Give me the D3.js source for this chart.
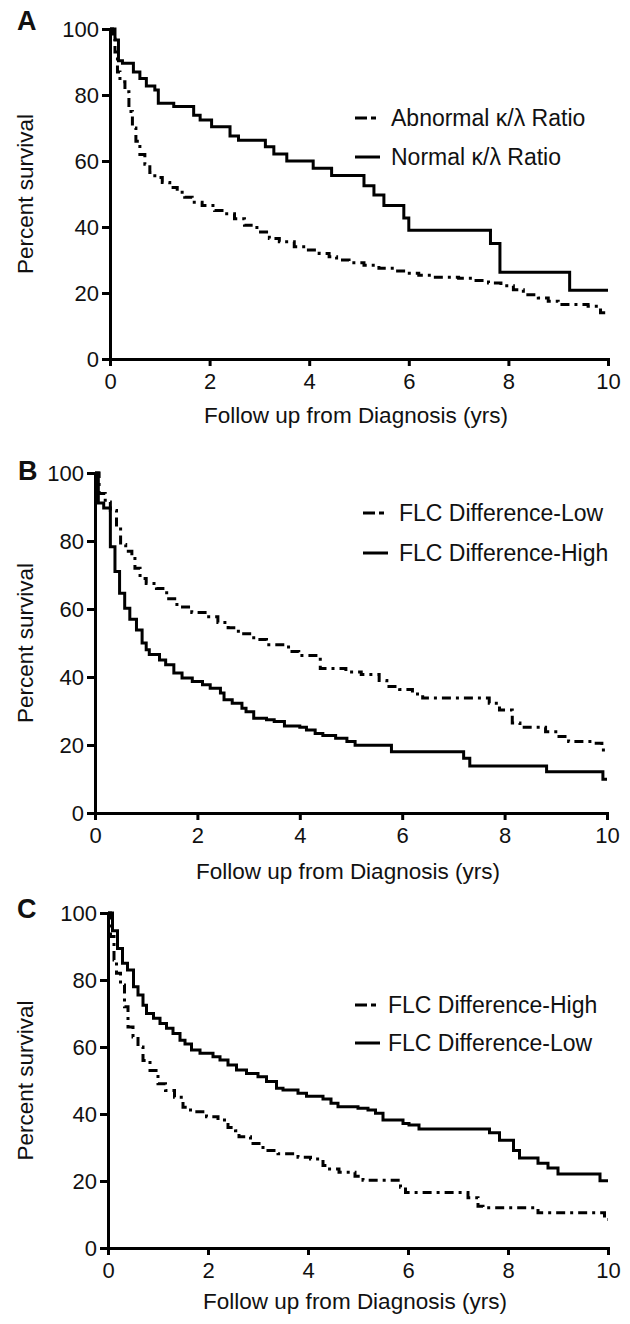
<!DOCTYPE html>
<html>
<head>
<meta charset="utf-8">
<script src="https://cdn.jsdelivr.net/npm/d3@7"></script>
<style>
  body { margin: 0; background: #fff; }
  svg { display: block; }
  text { font-family: "Liberation Sans", Arial, Helvetica, sans-serif; fill: #111; }
  .axis path, .axis line { stroke: #000; stroke-width: 3; }
  .axis text { font-size: 22px; }
</style>
</head>
<body>
<div id="chart"></div>
<script>
// Kaplan-Meier curves, values as [years, percent survival]
var xTicks = [0, 2, 4, 6, 8, 10];
var yTicks = [0, 20, 40, 60, 80, 100];

// panel A
var aAbnormal = [[0,100],[0.05,97],[0.1,93],[0.15,87],[0.2,84],[0.3,81],[0.38,75],[0.45,70],[0.52,66],[0.6,62],
  [0.7,59],[0.8,56.5],[0.9,55],[1.05,53.5],[1.2,52],[1.35,50.5],[1.5,49],[1.65,47.5],[1.85,46.5],[2.1,45],
  [2.3,44],[2.5,42.5],[2.7,40.5],[2.95,38.5],[3.2,36.5],[3.4,35.5],[3.7,34],[3.95,33],[4.2,32],[4.4,31],
  [4.55,30],[4.8,29.2],[5.1,28.4],[5.4,27.5],[5.7,26.7],[5.95,26],[6.2,25.4],[6.5,24.8],[7.0,24.5],[7.3,23.8],
  [7.6,23],[7.85,22.2],[8.1,21],[8.3,19.5],[8.6,18.5],[8.8,17.5],[9.0,16.5],[9.6,16],[9.85,14],[10,14]];
var aNormal = [[0,100],[0.1,96.7],[0.17,90.4],[0.25,89.6],[0.47,87],[0.6,85],[0.73,82.7],[0.9,81.5],[0.97,77.5],
  [1.28,76.5],[1.68,73.9],[1.81,72.4],[2.04,70.4],[2.41,67.6],[2.58,66.3],[3.12,64.3],[3.29,62.1],[3.55,60],
  [4.08,57.8],[4.45,55.6],[5.1,52.5],[5.3,49.7],[5.5,46.5],[5.9,42.7],[6.0,39],[7.64,35],[7.83,26.3],
  [9.23,20.8],[10,20.8]];

// panel B
var bLow = [[0,100],[0.08,94],[0.2,91.5],[0.3,89],[0.42,84],[0.5,79],[0.6,77],[0.72,75.5],[0.78,72],[0.88,69],
  [1.0,67.5],[1.2,66],[1.4,63],[1.6,60.6],[1.89,59],[2.15,57.7],[2.4,56],[2.6,54.5],[2.8,52.7],[3.1,51],
  [3.35,49.5],[3.78,47.5],[3.98,46.3],[4.4,42.5],[4.9,41.5],[5.2,40.7],[5.55,39],[5.7,37.2],[5.95,36.3],
  [6.2,35],[6.4,33.8],[7.7,32.3],[7.9,30.3],[8.15,26.5],[8.3,25.2],[8.8,23.9],[9.0,22.5],[9.25,21],
  [9.7,20.5],[9.9,18.5],[10,18.5]];
var bHigh = [[0,100],[0.065,91.2],[0.17,89.7],[0.3,78.3],[0.39,71],[0.48,64.6],[0.58,60.2],[0.68,57],[0.81,53.8],
  [0.92,50],[1.0,48],[1.06,46.6],[1.26,45],[1.38,43.6],[1.54,41.2],[1.7,39.7],[1.9,38.7],[2.1,37.7],[2.25,36.7],
  [2.45,35.3],[2.52,33.3],[2.68,32.3],[2.87,30.8],[2.95,29.8],[3.1,27.9],[3.35,27.4],[3.5,26.9],[3.7,25.6],
  [4.0,25.2],[4.13,24.4],[4.3,23.4],[4.45,22.8],[4.7,22],[4.92,21],[5.08,19.9],[5.79,18],[7.2,16.1],
  [7.32,13.8],[8.82,12.1],[9.92,9.9],[10,9.9]];

// panel C
var cHigh = [[0,100],[0.05,93],[0.12,86],[0.17,82],[0.25,78.5],[0.33,72],[0.4,66],[0.5,63],[0.6,60],[0.7,56],
  [0.84,53],[1.0,49],[1.15,47],[1.33,45],[1.5,42],[1.65,40.7],[1.97,39.2],[2.2,38.2],[2.4,36],[2.55,35],
  [2.62,33.2],[2.85,31.2],[3.1,29.1],[3.4,28.1],[3.8,27.1],[4.05,26.6],[4.3,24.6],[4.4,23.6],[4.62,22.6],
  [4.94,21.4],[5.1,20.2],[5.85,18.1],[5.95,16.6],[7.2,15],[7.4,12.5],[7.5,12],[8.6,10.5],[9.93,8.5],[10,8.5]];
var cLow = [[0,100],[0.09,94.7],[0.19,89.4],[0.29,85],[0.39,83],[0.51,78],[0.6,75.5],[0.7,72.5],[0.77,70],
  [0.91,68.6],[1.04,67],[1.17,65.6],[1.3,64],[1.44,62],[1.54,60.9],[1.67,59.1],[1.84,58.1],[2.1,57.1],
  [2.24,56.1],[2.4,54.6],[2.57,53.1],[2.77,52.1],[3.0,51.1],[3.17,49.7],[3.37,47.7],[3.5,47.2],[3.8,46.2],
  [3.97,45.3],[4.3,44.5],[4.46,43.2],[4.6,42.2],[5.0,41.7],[5.2,41.2],[5.35,40.2],[5.5,38.2],[5.9,37.2],
  [6.02,36.7],[6.22,35.5],[7.63,34.4],[7.83,32.2],[8.11,29.1],[8.23,26.9],[8.6,25.3],[8.8,23.9],[9.0,22.1],
  [9.84,20.1],[10,20.1]];

var xTitle = "Follow up from Diagnosis (yrs)";
var yTitle = "Percent survival";

var dashPattern = "9,5,3,5";

var svg = d3.select("#chart").append("svg")
  .attr("width", 630)
  .attr("height", 1324);

// layout of each panel (pixels)
var panels = [
  { letter: "A", left: 110, right: 608, top: 29, bottom: 359, lx: 17, ly: 30, titleY: 423,
    legX: 355, legTextX: 391, legY: [118, 157],
    series: [{ data: aAbnormal, name: "Abnormal \u03ba/\u03bb Ratio", dashed: true },
             { data: aNormal, name: "Normal \u03ba/\u03bb Ratio", dashed: false }] },
  { letter: "B", left: 95, right: 607, top: 473, bottom: 813, lx: 18, ly: 480, titleY: 879,
    legX: 363, legTextX: 399, legY: [513, 553],
    series: [{ data: bLow, name: "FLC Difference-Low", dashed: true },
             { data: bHigh, name: "FLC Difference-High", dashed: false }] },
  { letter: "C", left: 108, right: 608, top: 913, bottom: 1248, lx: 17, ly: 918, titleY: 1309,
    legX: 355, legTextX: 388, legY: [1005, 1043],
    series: [{ data: cHigh, name: "FLC Difference-High", dashed: true },
             { data: cLow, name: "FLC Difference-Low", dashed: false }] }
];

panels.forEach(function(p) {
  var x = d3.scaleLinear().domain([0, 10]).range([p.left, p.right]);
  var y = d3.scaleLinear().domain([0, 100]).range([p.bottom, p.top]);

  var line = d3.line()
    .x(d => x(d[0]))
    .y(d => y(d[1]))
    .curve(d3.curveStepAfter);

  // curves
  p.series.forEach(function(s) {
    svg.append("path")
      .datum(s.data)
      .attr("d", line)
      .attr("fill", "none")
      .attr("stroke", "#000")
      .attr("stroke-width", 3)
      .attr("stroke-dasharray", s.dashed ? dashPattern : null);
  });

  // axes
  svg.append("g")
    .attr("class", "axis")
    .attr("transform", `translate(0, ${p.bottom})`)
    .call(d3.axisBottom(x).tickValues(xTicks).tickSize(7).tickSizeOuter(0).tickPadding(7));
  svg.append("g")
    .attr("class", "axis")
    .attr("transform", `translate(${p.left}, 0)`)
    .call(d3.axisLeft(y).tickValues(yTicks).tickSize(8).tickSizeOuter(0).tickPadding(3));
  svg.selectAll(".axis .domain").attr("stroke-linecap", "square");

  // titles
  svg.append("text")
    .attr("x", (p.left + p.right) / 2 - 3)
    .attr("y", p.titleY)
    .attr("text-anchor", "middle")
    .style("font-size", "22.5px")
    .text(xTitle);

  svg.append("text")
    .attr("transform", `translate(33, ${(p.top + p.bottom) / 2}) rotate(-90)`)
    .attr("text-anchor", "middle")
    .style("font-size", "22.5px")
    .text(yTitle);

  svg.append("text")
    .attr("x", p.lx)
    .attr("y", p.ly)
    .style("font-size", "27px")
    .style("font-weight", "bold")
    .text(p.letter);

  // legend
  p.series.forEach(function(s, i) {
    svg.append("line")
      .attr("x1", p.legX)
      .attr("x2", p.legX + 25)
      .attr("y1", p.legY[i])
      .attr("y2", p.legY[i])
      .attr("stroke", "#000")
      .attr("stroke-width", 3)
      .attr("stroke-dasharray", s.dashed ? "12,4,5,4" : null);
    svg.append("text")
      .attr("x", p.legTextX)
      .attr("y", p.legY[i])
      .attr("dy", "0.36em")
      .style("font-size", "23px")
      .text(s.name);
  });
});
</script>
</body>
</html>
